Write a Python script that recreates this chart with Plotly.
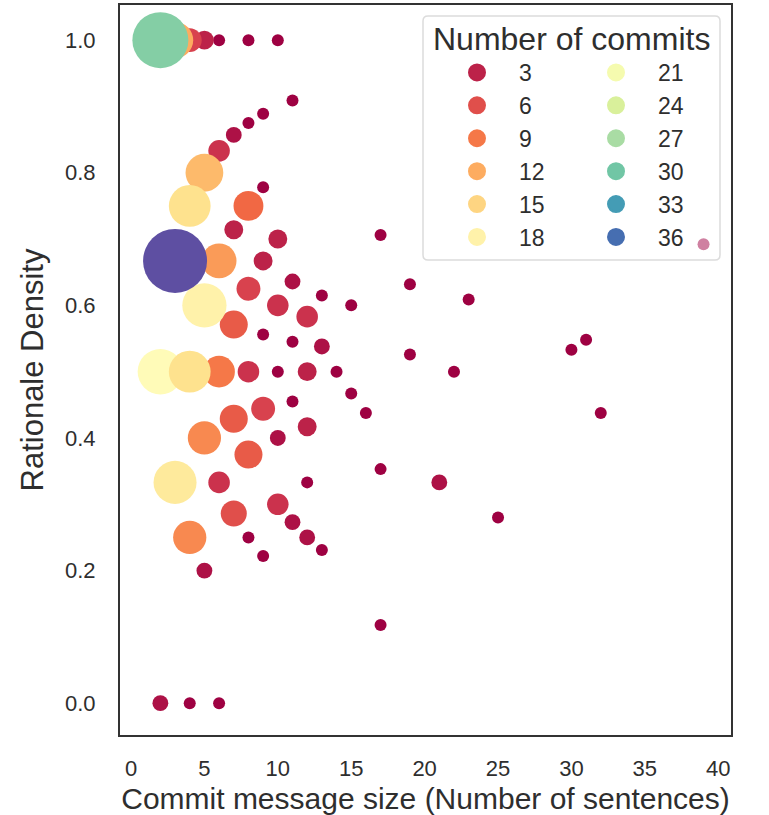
import numpy as np
import plotly.graph_objects as go
from plotly.colors import sample_colorscale

# ---- data (drawing order: small counts first, large on top) ----
sentences = [
    4, 6, 6, 8, 8, 8, 9, 9, 9, 9, 10, 10, 11, 11, 11, 12, 13, 13, 14, 15, 15, 16,
    17, 17, 17, 19, 19, 22, 23, 25, 30, 31, 32, 39,
    2, 5, 7, 10, 11, 11, 12, 13, 21,
    5, 7, 9, 10, 12, 12,
    6, 6, 8, 10, 10, 12,
    4, 8, 9,
    7,
    7, 7, 8,
    8,
    6,
    5, 4,
    6,
    3,
    5,
    3,
    5,
    2,
    4, 4,
    2,
    3,
]
density = [
    0.0, 1.0, 0.0, 1.0, 0.875, 0.25, 0.889, 0.778, 0.556, 0.222, 1.0, 0.5, 0.909, 0.545, 0.455, 0.333, 0.615, 0.231, 0.5, 0.6, 0.467, 0.4375,
    0.706, 0.353, 0.118, 0.632, 0.526, 0.5, 0.609, 0.28, 0.533, 0.548, 0.4375, 0.692,
    0.0, 0.2, 0.857, 0.4, 0.636, 0.273, 0.25, 0.538, 0.333,
    1.0, 0.714, 0.667, 0.7, 0.5, 0.417,
    0.833, 0.333, 0.5, 0.6, 0.3, 0.583,
    1.0, 0.625, 0.444,
    0.286,
    0.571, 0.429, 0.375,
    0.75,
    0.5,
    0.4, 0.25,
    0.667,
    1.0,
    0.8,
    0.333,
    0.6,
    0.5,
    0.75, 0.5,
    1.0,
    0.667,
]
commits = (
    [1] * 34
    + [2] * 9
    + [3] * 6
    + [4] * 6
    + [5] * 3
    + [6]
    + [7] * 3
    + [8]
    + [9]
    + [10] * 2
    + [11]
    + [12]
    + [13]
    + [17]
    + [18]
    + [19]
    + [16] * 2
    + [29]
    + [38]
)
legend_values = [3, 6, 9, 12, 15, 18, 21, 24, 27, 30, 33, 36]

# ---- style ----
SPECTRAL = ["#9e0142", "#d53e4f", "#f46d43", "#fdae61", "#fee08b", "#ffffbf",
            "#e6f598", "#abdda4", "#66c2a5", "#3288bd", "#5e4fa2"]
colorscale = [[i / (len(SPECTRAL) - 1), c] for i, c in enumerate(SPECTRAL)]
CMIN, CMAX = min(commits), max(commits)
D_MIN, D_MAX = 12.0, 64.0  # marker diameters in px (area-linear mapping)

c_arr = np.array(commits, dtype=float)
frac = (c_arr - CMIN) / (CMAX - CMIN)
diam = np.sqrt(D_MIN ** 2 + frac * (D_MAX ** 2 - D_MIN ** 2))

FONT = "Liberation Sans, Arial, sans-serif"
TXT = "#2e2e2e"

fig = go.Figure()
fig.add_trace(go.Scatter(
    x=sentences, y=density, mode="markers", showlegend=False,
    marker=dict(color=commits, colorscale=colorscale, cmin=CMIN, cmax=CMAX,
                size=diam, sizemode="diameter", opacity=1.0,
                line=dict(width=0)),
    hoverinfo="x+y",
))

for i, v in enumerate(legend_values):
    col = sample_colorscale(colorscale, [(v - CMIN) / (CMAX - CMIN)])[0]
    fig.add_trace(go.Scatter(
        x=[None], y=[None], mode="markers", name=str(v),
        legend="legend" if i < 6 else "legend2",
        legendgroup=str(v),
        marker=dict(color=col, size=16, line=dict(color=col, width=2)),
    ))

W, H = 769, 815
ML, MR, MT, MB = 120, 38, 5, 80
PW, PH = W - ML - MR, H - MT - MB

def px2paper_x(px):
    return (px - ML) / PW

def px2paper_y(py):
    return 1 - (py - MT) / PH

# rounded legend frame
x0, x1 = px2paper_x(423), px2paper_x(720)
y0, y1 = px2paper_y(260), px2paper_y(16)
rx, ry = 5 / PW, 5 / PH
path = (f"M {x0+rx},{y1} L {x1-rx},{y1} Q {x1},{y1} {x1},{y1-ry} "
        f"L {x1},{y0+ry} Q {x1},{y0} {x1-rx},{y0} L {x0+rx},{y0} "
        f"Q {x0},{y0} {x0},{y0+ry} L {x0},{y1-ry} Q {x0},{y1} {x0+rx},{y1} Z")

legend_common = dict(
    bgcolor="rgba(0,0,0,0)", borderwidth=0, itemwidth=74,
    font=dict(family=FONT, size=23, color=TXT),
    tracegroupgap=0, xanchor="left", yanchor="top", itemclick=False,
)

fig.update_layout(
    width=W, height=H,
    margin=dict(l=ML, r=MR, t=MT, b=MB, autoexpand=False),
    paper_bgcolor="white", plot_bgcolor="white",
    font=dict(family=FONT, color=TXT),
    shapes=[dict(type="path", path=path, xref="paper", yref="paper",
                 fillcolor="rgba(255,255,255,0.5)",
                 line=dict(color="#dcdcdc", width=1.5), layer="above")],
    annotations=[dict(text="Number of commits", xref="paper", yref="paper",
                      x=px2paper_x(571), y=px2paper_y(39), xanchor="center",
                      yanchor="middle", showarrow=False,
                      font=dict(family=FONT, size=32, color=TXT))],
    legend=dict(x=px2paper_x(435), y=px2paper_y(51), **legend_common),
    legend2=dict(x=px2paper_x(574), y=px2paper_y(51), **legend_common),
    xaxis=dict(
        range=[-0.75, 40.87], tickmode="array", tickvals=list(range(0, 41, 5)),
        showgrid=False, zeroline=False, ticks="", ticklabelstandoff=13,
        showline=True, mirror=True, linecolor="#333333", linewidth=2,
        tickfont=dict(family=FONT, size=22, color=TXT),
        title=dict(text="Commit message size (Number of sentences)",
                   font=dict(family=FONT, size=30, color=TXT), standoff=8),
        automargin=False,
    ),
    yaxis=dict(
        range=[-0.048, 1.053], tickmode="array",
        tickvals=[0.0, 0.2, 0.4, 0.6, 0.8, 1.0], tickformat=".1f",
        showgrid=False, zeroline=False, ticks="", ticklabelstandoff=18,
        showline=True, mirror=True, linecolor="#333333", linewidth=2,
        tickfont=dict(family=FONT, size=22, color=TXT),
        title=dict(text="Rationale Density",
                   font=dict(family=FONT, size=31, color=TXT), standoff=12),
        automargin=False,
    ),
)

fig.write_html("out.html", config={"displayModeBar": False},
               post_script="document.body.style.margin='0';document.body.style.overflow='hidden';")
